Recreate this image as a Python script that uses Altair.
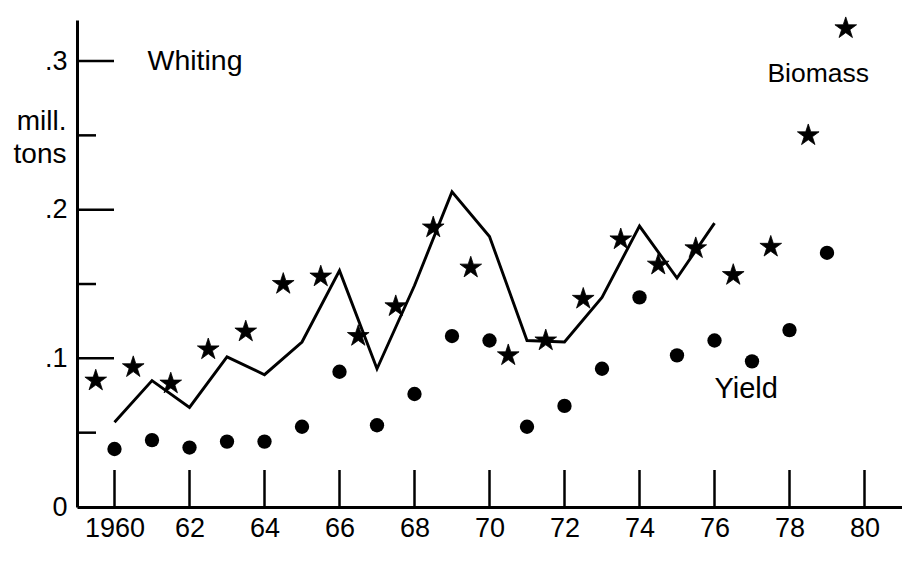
import altair as alt
import pandas as pd

# ---- data ----
biomass_years = [1959.5, 1960.5, 1961.5, 1962.5, 1963.5, 1964.5, 1965.5, 1966.5, 1967.5,
                 1968.5, 1969.5, 1970.5, 1971.5, 1972.5, 1973.5, 1974.5, 1975.5, 1976.5,
                 1977.5, 1978.5, 1979.5]
biomass = [0.085, 0.094, 0.083, 0.106, 0.118, 0.150, 0.155, 0.115, 0.135, 0.188, 0.161,
           0.102, 0.112, 0.140, 0.180, 0.163, 0.174, 0.156, 0.175, 0.250, 0.322]

yield_years = [1960, 1961, 1962, 1963, 1964, 1965, 1966, 1967, 1968, 1969,
               1970, 1971, 1972, 1973, 1974, 1975, 1976, 1977, 1978, 1979]
yields = [0.039, 0.045, 0.040, 0.044, 0.044, 0.054, 0.091, 0.055, 0.076, 0.115,
          0.112, 0.054, 0.068, 0.093, 0.141, 0.102, 0.112, 0.098, 0.119, 0.171]

line_years = [1960, 1961, 1962, 1963, 1964, 1965, 1966, 1967, 1968,
              1969, 1970, 1971, 1972, 1973, 1974, 1975, 1976]
line_vals = [0.057, 0.085, 0.067, 0.101, 0.089, 0.111, 0.159, 0.093, 0.149,
             0.212, 0.182, 0.112, 0.111, 0.141, 0.189, 0.154, 0.191]

x_tick_values = [1960, 1962, 1964, 1966, 1968, 1970, 1972, 1974, 1976, 1978, 1980]
x_tick_labels = ["1960", "62", "64", "66", "68", "70", "72", "74", "76", "78", "80"]
y_major_values = [0.1, 0.2, 0.3]
y_minor_values = [0.05, 0.15, 0.25]
y_label_values = [0, 0.1, 0.2, 0.3]
y_label_texts = ["0", ".1", ".2", ".3"]

FONT = "Liberation Sans"
FS = 27
W, H = 825, 487


def label_expr(values, labels):
    expr = "''"
    for v, l in reversed(list(zip(values, labels))):
        expr = f"abs(datum.value - {v}) < 1e-6 ? '{l}' : ({expr})"
    return expr


x_scale = alt.Scale(domain=[1959, 1981], nice=False, zero=False)
y_scale = alt.Scale(domain=[0, 0.3276], nice=False, zero=False)
x_axis = alt.Axis(values=x_tick_values, labelExpr=label_expr(x_tick_values, x_tick_labels),
                  title=None, labelPadding=8, labelFlush=False, labelOverlap=False)
y_axis = alt.Axis(values=y_label_values, labelExpr=label_expr(y_label_values, y_label_texts),
                  title=None, labelPadding=10, labelFlush=False, labelOverlap=False)


def X(field="year"):
    return alt.X(f"{field}:Q", scale=x_scale, axis=x_axis)


def Y(field="value"):
    return alt.Y(f"{field}:Q", scale=y_scale, axis=y_axis)


stars_df = pd.DataFrame({"year": biomass_years, "value": biomass})
dots_df = pd.DataFrame({"year": yield_years, "value": yields})
line_df = pd.DataFrame({"year": line_years, "value": line_vals})
xt_df = pd.DataFrame({"year": x_tick_values})
ymaj_df = pd.DataFrame({"value": y_major_values})
ymin_df = pd.DataFrame({"value": y_minor_values})

STAR = ("M0,-1L0.2245,-0.309L0.951,-0.309L0.363,0.118L0.588,0.809L0,0.382"
        "L-0.588,0.809L-0.363,0.118L-0.951,-0.309L-0.2245,-0.309Z")

x_ticks = alt.Chart(xt_df).mark_rule(color="black", strokeWidth=2.5).encode(
    x=X(), y=alt.value(H), y2=alt.value(H - 37))
y_major = alt.Chart(ymaj_df).mark_rule(color="black", strokeWidth=2.5).encode(
    y=Y(), x=alt.value(0), x2=alt.value(37))
y_minor = alt.Chart(ymin_df).mark_rule(color="black", strokeWidth=2.5).encode(
    y=Y(), x=alt.value(0), x2=alt.value(19))

line = alt.Chart(line_df).mark_line(color="black", strokeWidth=2.9).encode(x=X(), y=Y())
dots = alt.Chart(dots_df).mark_point(shape="circle", filled=True, size=205,
                                     color="black", opacity=1).encode(x=X(), y=Y())
stars = alt.Chart(stars_df).mark_point(shape=STAR, filled=True, size=520,
                                       color="black", opacity=1,
                                       stroke="black", strokeWidth=0.8).encode(x=X(), y=Y())


def note(text, xv, yv, size, align="left"):
    return alt.Chart(pd.DataFrame({"t": [text]})).mark_text(
        font=FONT, fontSize=size, color="black", align=align, baseline="alphabetic"
    ).encode(x=alt.datum(xv), y=alt.datum(yv), text="t:N")


notes = [
    note("Whiting", 1960.88, 0.2939, 28.5),
    note("Biomass", 1977.41, 0.2858, 26.5),
    note("Yield", 1976.0, 0.0733, 29),
    note("mill.", 1958.72, 0.2535, 28, align="right"),
    note("tons", 1958.72, 0.2313, 28, align="right"),
]

chart = alt.layer(x_ticks, y_major, y_minor, line, dots, stars, *notes).properties(
    width=W, height=H,
    padding={"left": 69, "top": 12, "right": 0, "bottom": 45},
    autosize="none",
    background="white",
).configure_view(stroke=None).configure_axis(
    labelFont=FONT, labelFontSize=FS, labelColor="black",
    domainColor="black", domainWidth=3, ticks=False, grid=False,
)

chart.save("out.html", embed_options={"renderer": "svg", "actions": False})
